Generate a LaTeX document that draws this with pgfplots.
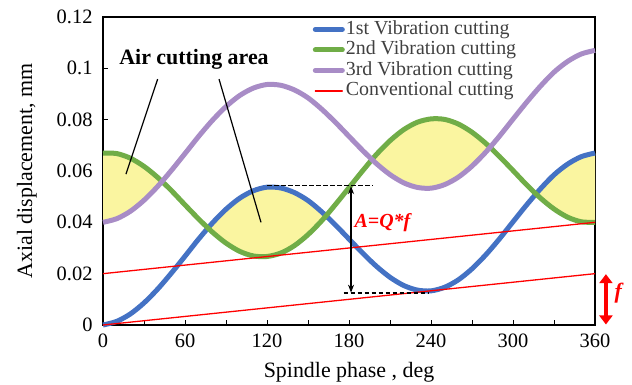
\documentclass[border=0pt]{standalone}
\usepackage{fontspec}
\setmainfont{Liberation Serif}
\usepackage{pgfplots}
\pgfplotsset{compat=1.18}
\usepgfplotslibrary{fillbetween}
\usetikzlibrary{arrows.meta}
\definecolor{cblue}{RGB}{68,114,196}
\definecolor{cgreen}{RGB}{112,173,71}
\definecolor{cpurple}{RGB}{168,140,198}
\definecolor{cyel}{RGB}{250,245,160}
\definecolor{cleg}{RGB}{64,64,64}
\begin{document}
\begin{tikzpicture}
\begin{axis}[
  at={(0,0)}, anchor=south west,
  scale only axis, width=492bp, height=308bp,
  set layers,
  clip=false,
  xmin=0, xmax=360, ymin=0, ymax=0.12,
  xtick={0,60,...,360}, minor x tick num=1,
  ytick={0,0.02,0.04,0.06,0.08,0.1,0.12},
  xtick pos=bottom, ytick pos=left,
  tick align=inside,
  major tick length=5bp, minor tick length=5bp,
  axis line style={line width=1.3bp},
  every tick/.style={black, line width=1bp},
  /pgf/number format/assume math mode=true,
  yticklabel style={/pgf/number format/fixed, /pgf/number format/precision=2},
  tick label style={font=\fontsize{20.5}{22}\selectfont},
  xticklabel style={yshift=-5bp},
  yticklabel style={xshift=-7bp},
  xlabel={Spindle phase , deg},
  ylabel={Axial displacement, mm},
  every axis x label/.style={at={(axis description cs:0.5,-0.153)}, anchor=center, font=\fontsize{22}{24}\selectfont},
  every axis y label/.style={at={(axis description cs:-0.155,0.5)}, rotate=90, anchor=center, font=\fontsize{22}{24}\selectfont},
  legend cell align=left,
  legend style={at={(axis description cs:0.42,1)}, anchor=north west, draw=none, fill=none,
    font=\fontsize{20}{20}\selectfont, text=cleg, row sep=0bp,
    nodes={inner sep=1bp, text height=14bp, text depth=4.5bp}},
  legend image code/.code={\draw[#1,line cap=round] (0bp,0bp) -- (27bp,0bp);},
]
\addplot[name path=B, cblue, line width=5bp, smooth] coordinates {
(0,0) (10,0.0014) (20,0.0043) (30,0.0086) (40,0.0140) (50,0.0202) (60,0.0268)
(70,0.0335) (80,0.0397) (90,0.0451) (100,0.0494) (110,0.0523) (120,0.0537)
(130,0.0534) (140,0.0516) (150,0.0485) (160,0.0441) (170,0.0390) (180,0.0335)
(190,0.0280) (200,0.0229) (210,0.0186) (220,0.0154) (230,0.0136) (240,0.0133)
(250,0.0147) (260,0.0176) (270,0.0219) (280,0.0273) (290,0.0335) (300,0.0402)
(310,0.0468) (320,0.0530) (330,0.0585) (340,0.0627) (350,0.0656) (360,0.0670)};
\addlegendentry{1st Vibration cutting}
\addplot[name path=G, cgreen, line width=5bp, smooth] coordinates {
(0,0.0670) (10,0.0668) (20,0.0650) (30,0.0618) (40,0.0575) (50,0.0524) (60,0.0468)
(70,0.0413) (80,0.0362) (90,0.0319) (100,0.0287) (110,0.0269) (120,0.0267)
(130,0.0280) (140,0.0309) (150,0.0352) (160,0.0406) (170,0.0469) (180,0.0535)
(190,0.0601) (200,0.0664) (210,0.0718) (220,0.0761) (230,0.0790) (240,0.0803)
(250,0.0801) (260,0.0783) (270,0.0751) (280,0.0708) (290,0.0657) (300,0.0602)
(310,0.0546) (320,0.0495) (330,0.0452) (340,0.0420) (350,0.0402) (360,0.0400)};
\addlegendentry{2nd Vibration cutting}
\addplot[name path=P, cpurple, line width=5bp, smooth] coordinates {
(0,0.0400) (10,0.0414) (20,0.0443) (30,0.0486) (40,0.0540) (50,0.0602) (60,0.0668)
(70,0.0735) (80,0.0797) (90,0.0851) (100,0.0894) (110,0.0923) (120,0.0937)
(130,0.0934) (140,0.0916) (150,0.0885) (160,0.0841) (170,0.0790) (180,0.0735)
(190,0.0680) (200,0.0629) (210,0.0586) (220,0.0554) (230,0.0536) (240,0.0533)
(250,0.0547) (260,0.0576) (270,0.0619) (280,0.0673) (290,0.0735) (300,0.0802)
(310,0.0868) (320,0.0930) (330,0.0985) (340,0.1027) (350,0.1056) (360,0.1070)};
\addlegendentry{3rd Vibration cutting}
\addplot[red, line width=1.3bp] coordinates {(0,0.02) (360,0.04)};
\addlegendentry{Conventional cutting}
\addplot[red, line width=1.3bp, forget plot] coordinates {(0,0) (360,0.02)};
\addplot[cyel, forget plot] fill between[of=G and P, soft clip={domain=0:43.2}];
\addplot[cyel, forget plot] fill between[of=G and P, soft clip={domain=196.8:283.2}];
\addplot[cyel, forget plot] fill between[of=B and G, soft clip={domain=76.8:163.2}];
\addplot[cyel, forget plot] fill between[of=B and G, soft clip={domain=316.8:360}];
% annotations
\draw[black, line width=1.4bp, dash pattern=on 4.5bp off 2.5bp] (axis cs:120,0.0543) -- (axis cs:197,0.0543);
\draw[black, line width=1.4bp, dash pattern=on 4.5bp off 2.5bp] (axis cs:176,0.0124) -- (axis cs:238,0.0124);
\draw[black, line width=1.2bp, {Stealth[length=8bp,width=6bp]}-{Stealth[length=8bp,width=6bp]}] (axis cs:181.5,0.0541) -- (axis cs:181.5,0.0126);
\node[anchor=west, text=red, font=\fontsize{20}{22}\selectfont\bfseries\itshape, inner sep=0pt] at (axis cs:184,0.0398) {A=Q*f};
\node[font=\fontsize{22}{24}\selectfont\bfseries, inner sep=0pt] at (axis cs:66.6,0.1035) {Air cutting area};
\draw[black, line width=1.2bp] (axis cs:40,0.0958) -- (axis cs:16.8,0.0588);
\draw[black, line width=1.2bp] (axis cs:84.9,0.0958) -- (axis cs:115.6,0.0400);
\draw[red, line width=4bp, {Triangle[length=9bp,width=13bp]}-{Triangle[length=9bp,width=13bp]}] (axis cs:368,0.0002) -- (axis cs:368,0.0198);
\node[text=red, font=\fontsize{22}{24}\selectfont\bfseries\itshape, inner sep=0pt] at (axis cs:377,0.0125) {f};
\end{axis}
\pgfresetboundingbox
\useasboundingbox (-103bp,-60bp) rectangle (529bp,325bp);
\end{tikzpicture}
\end{document}
